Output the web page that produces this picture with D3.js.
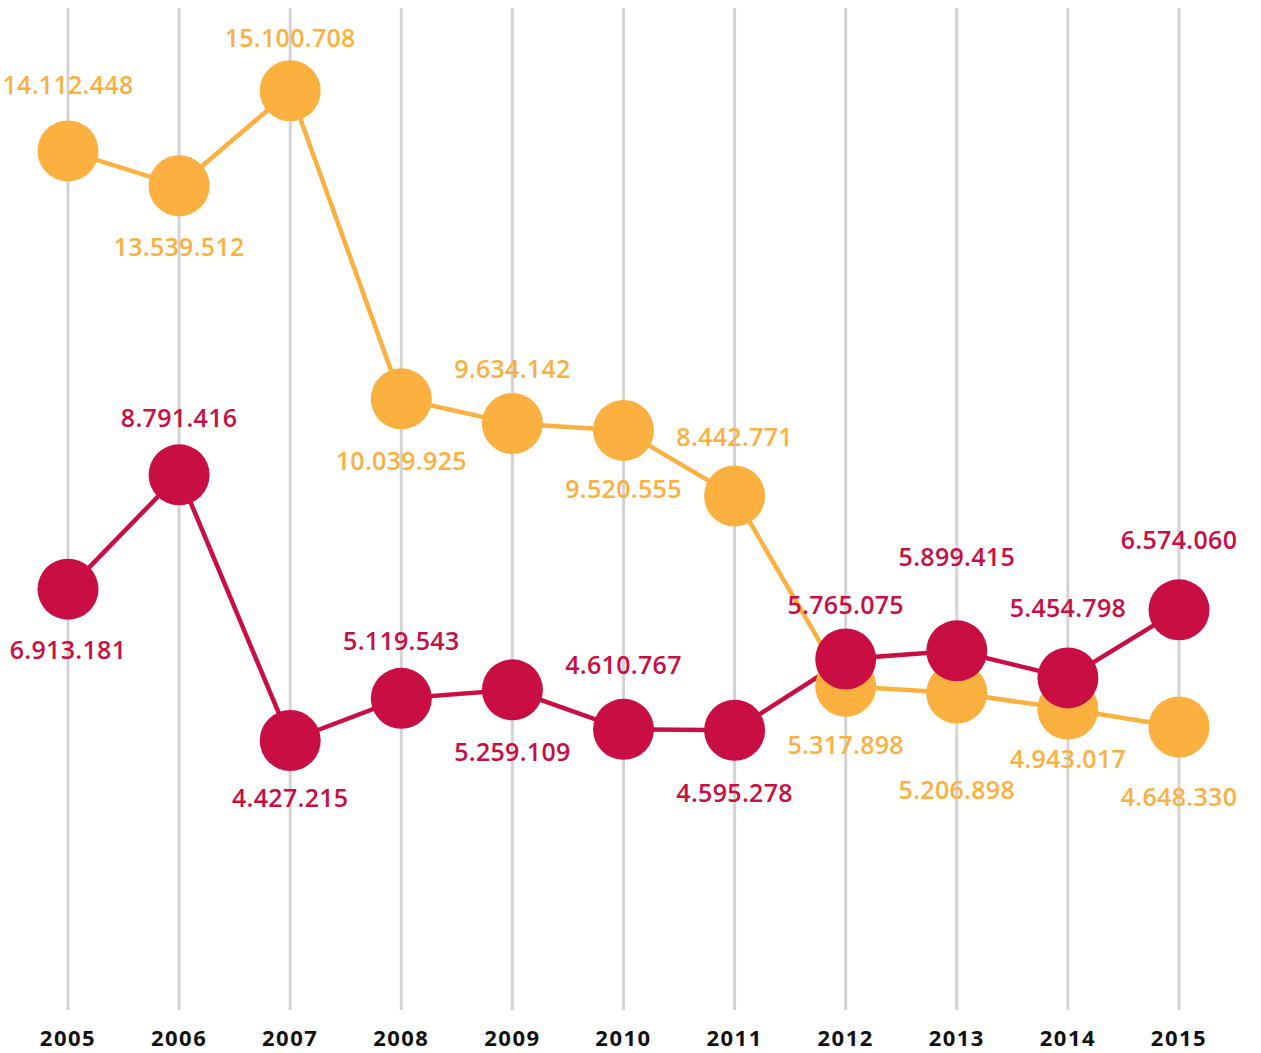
<!DOCTYPE html>
<html>
<head>
<meta charset="utf-8">
<script src="https://cdn.jsdelivr.net/npm/d3@7"></script>
<style>
  html, body { margin: 0; padding: 0; background: #fff; }
  svg { display: block; font-family: "Open Sans", sans-serif; }
</style>
</head>
<body>
<svg id="chart" width="1261" height="1053"></svg>
<script>
// Years on the x axis
const years = ['2005', '2006', '2007', '2008', '2009', '2010', '2011', '2012', '2013', '2014', '2015'];

// Two series
const orangeValues = [14112448, 13539512, 15100708, 10039925, 9634142, 9520555, 8442771, 5317898, 5206898, 4943017, 4648330];
const redValues = [6913181, 8791416, 4427215, 5119543, 5259109, 4610767, 4595278, 5765075, 5899415, 5454798, 6574060];

// Label placement (vertical offset from the dot, px) — layout only
const orangeLabelDy = [-66, 61, -52, 62, -54, 59, -59, 59, 97, 50, 70];
const redLabelDy = [61, -57, 58, -57, 62, -64, 63, -54, -94, -70, -70];

const ORANGE = '#fbb040';
const RED = '#c90e43';

const svg = d3.select('#chart');

const x = d3.scalePoint().domain(years).range([68, 1179]);
const y = d3.scaleLinear().domain([0, 16000000]).range([1010, 36]);

const fmt = v => d3.format(',')(v).replace(/,/g, '.');

// vertical grid lines, one per year
svg.append('g')
    .attr('stroke', '#d3d3d3')
    .attr('stroke-width', 3)
  .selectAll('line')
  .data(years)
  .join('line')
    .attr('x1', d => x(d)).attr('x2', d => x(d))
    .attr('y1', 8).attr('y2', 1010);

// year labels
svg.append('g')
  .selectAll('text')
  .data(years)
  .join('text')
    .attr('x', d => x(d))
    .attr('y', 1046)
    .attr('text-anchor', 'middle')
    .attr('font-size', 22)
    .attr('font-weight', 'bold')
    .attr('letter-spacing', 1.5)
    .attr('fill', '#111')
    .text(d => d);

const series = [
  { values: orangeValues, dy: orangeLabelDy, color: ORANGE },
  { values: redValues, dy: redLabelDy, color: RED }
];

const line = d3.line().x((d, i) => x(years[i])).y(d => y(d));

// lines first, then dots, then labels on top
series.forEach(s => {
  svg.append('path')
      .datum(s.values)
      .attr('fill', 'none')
      .attr('stroke', s.color)
      .attr('stroke-width', 4.5)
      .attr('d', line);
});

series.forEach(s => {
  svg.append('g')
    .selectAll('circle')
    .data(s.values)
    .join('circle')
      .attr('cx', (d, i) => x(years[i]))
      .attr('cy', d => y(d))
      .attr('r', 30.5)
      .attr('fill', s.color);
});

series.forEach(s => {
  svg.append('g')
    .selectAll('text')
    .data(s.values)
    .join('text')
      .attr('x', (d, i) => x(years[i]))
      .attr('y', (d, i) => y(d) + s.dy[i])
      .attr('dy', '0.35em')
      .attr('text-anchor', 'middle')
      .attr('font-size', 25)
      .attr('font-weight', 600)
      .attr('letter-spacing', 0.3)
      .attr('fill', s.color)
      .text(fmt);
});
</script>
</body>
</html>
